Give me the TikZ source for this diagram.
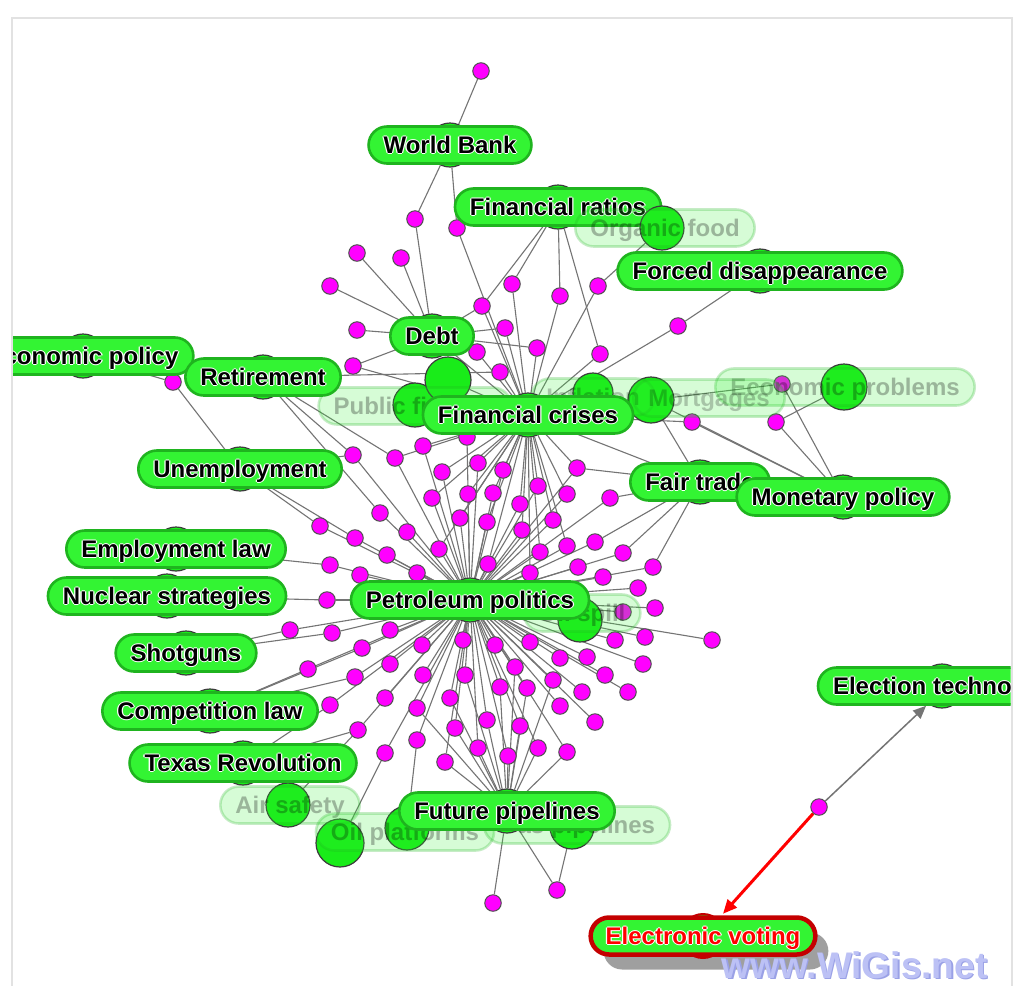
\documentclass[tikz,border=0pt]{standalone}
\usepackage{fontspec}
\setmainfont{Liberation Sans}
\newfontfamily\labfamily{Liberation Sans}
\usetikzlibrary{arrows.meta}
\pgfdeclarelayer{bglayer}
\pgfdeclarelayer{edgelayer}
\pgfsetlayers{bglayer,edgelayer,main}

\definecolor{labfill}{HTML}{33F433}
\definecolor{labline}{HTML}{1FB41F}
\definecolor{circfill}{HTML}{19EC19}
\definecolor{circline}{HTML}{3C3C3C}
\definecolor{dotfill}{HTML}{FF00FF}
\definecolor{dotline}{HTML}{505050}
\definecolor{edgecol}{HTML}{747474}
\definecolor{evline}{HTML}{C40000}
\definecolor{evtext}{HTML}{FF0000}
\definecolor{wmfill}{HTML}{BCC1F5}
\definecolor{wmedge}{HTML}{9AA1E6}
\definecolor{framecol}{HTML}{E2E2E2}

% white outline around label text
\newcommand\halo[1]{\setbox0=\hbox{#1}%
  \rlap{\color{white}\kern-1.3pt\copy0}%
  \rlap{\color{white}\kern1.3pt\copy0}%
  \rlap{\color{white}\raise1.3pt\copy0}%
  \rlap{\color{white}\lower1.3pt\copy0}%
  \copy0}

\begin{document}
\begin{tikzpicture}[x=1pt,y=-1pt,
  edge/.style={draw=edgecol, line width=1.1pt},
  dot/.style={circle, draw=dotline, fill=dotfill, line width=1pt, minimum size=16.5pt, inner sep=0pt},
  hubc/.style={circle, draw=circline, fill=circfill, line width=1.2pt, minimum size=44pt, inner sep=0pt},
  lab/.style={draw=labline, line width=2.6pt, fill=labfill, rounded corners=18.5pt,
    minimum height=37pt, inner xsep=15pt, inner ysep=0pt, text height=17pt, text depth=0pt,
    font=\labfamily\bfseries\fontsize{24}{24}\selectfont, text=black},
  faded/.style={lab, draw opacity=0.25, fill opacity=0.2, text opacity=0.28},
  evlab/.style={lab, draw=evline, line width=4.5pt, text=evtext},
  shadowbox/.style={lab, draw=none, fill=black!50, fill opacity=0.75, text opacity=0},
  wmark/.style={inner sep=0pt, font=\labfamily\bfseries\fontsize{37}{37}\selectfont}
]
\useasboundingbox (0,0) rectangle (1014,986);
\begin{pgfonlayer}{bglayer}
  \fill[white] (0,0) rectangle (1014,986);
  % frame of the viewer
  \draw[framecol, line width=2pt] (11.5,986) -- (11.5,18) -- (1011.5,18) -- (1011.5,986);
\end{pgfonlayer}

\begin{scope}
\clip (13,19) rectangle (1010.5,986);

% ---- small magenta nodes ----
\foreach \n/\x/\y in {
  u1/481/71, u2/415/219, u3/457/228, u4/401/258, u5/357/253, u6/330/286,
  u7/357/330, u8/353/366, u9/512/284, u10/482/306, u11/505/328, u12/560/296,
  u13/598/286, u14/537/348, u15/600/354, u16/678/326, u17/477/352, u18/500/372,
  u19/173/382, u20/692/422, u21/776/422, u22/782/384, u23/467/437, u24/423/446,
  u25/353/455,
  b1/395/458, b2/442/472, b3/478/463, b4/503/470, b5/432/498, b6/468/494,
  b7/493/493, b8/538/486, b9/577/468, b10/567/494, b11/520/504, b12/460/518,
  b13/487/522, b14/522/530, b15/553/520, b16/439/549, b17/488/564, b18/530/573,
  b19/540/552, b20/567/546,
  p1/610/498, p2/380/513, p3/320/526, p4/407/532, p5/355/538, p6/387/555,
  p7/330/565, p8/360/575, p9/417/573, p10/595/542, p11/623/553, p12/578/567,
  p13/603/577, p14/653/567, p15/638/588, p16/655/608, p17/623/612, p18/327/600,
  p19/290/630, p20/332/633, p21/390/630, p22/422/645, p23/463/640, p24/495/645,
  p25/530/642, p26/615/640, p27/645/637, p28/712/640, p29/362/648, p30/308/669,
  p31/390/664, p32/423/675, p33/465/675, p34/515/667, p35/560/658, p36/587/657,
  p37/643/664, p38/605/675, p39/355/677, p40/553/680, p41/500/687, p42/527/688,
  p43/582/692, p44/628/692, p45/330/705, p46/385/698, p47/417/708, p48/450/698,
  p49/560/706, p50/595/722, p51/358/730, p52/455/728, p53/487/720, p54/520/726,
  p55/417/740, p56/478/748, p57/538/748, p58/567/752, p59/385/753, p60/445/762,
  p61/508/756, q1/557/890, q2/493/903, mv/819/807}
  \node[dot] (\n) at (\x,\y) {};

% ---- large nodes of the faded topics ----
\node[hubc, minimum size=46pt] (EPR) at (844,387) {};
\node[hubc] (PF)  at (415,405) {};
\node[hubc, minimum size=40pt] (IN)  at (593,393) {};
\node[hubc] (OS)  at (580,620) {};
\node[hubc] (AS)  at (288,805) {};
\node[hubc] (OPL) at (407,828) {};
\node[hubc] (GP)  at (572,827) {};
% unlabeled large nodes
\node[hubc, minimum size=46pt] (ca) at (448,380) {};
\node[hubc, minimum size=46pt] (cb) at (651,400) {};
\node[hubc, minimum size=48pt] (cc) at (340,843) {};

% ---- faded topic labels ----
\node[faded] (EPRl) at (845,387) {Economic problems};
\node[faded] (PFl)  at (415,406) {Public finance};
\node[faded, text opacity=0.22] (INl)  at (593,397) {Inflation};
\node[faded, text opacity=0.22] (MGl)  at (709,398) {Mortgages};
\node[faded] (OSl)  at (582,613) {Oil spill};
\node[faded] (ASl)  at (290,805) {Air safety};
\node[faded] (OPLl) at (405,832) {Oil platforms};
\node[faded] (GPl)  at (577,825) {Gas pipelines};

% ---- labelled topics ----
\node[hubc] (WB) at (450,145) {};
\node[lab] (WBl) at (WB) {\halo{World Bank}};
\node[hubc] (FR) at (558,207) {};
\node[lab] (FRl) at (FR) {\halo{Financial ratios}};
\node[hubc] (OF)  at (662,228) {};
\node[faded] (OFl)  at (665,228) {Organic food};
\node[hubc] (FD) at (760,271) {};
\node[lab] (FDl) at (FD) {\halo{Forced disappearance}};
\node[hubc] (EP) at (83,356) {};
\node[lab] (EPl) at (83,356) {\halo{Economic policy}};
\node[hubc] (DB) at (432,336) {};
\node[lab] (DBl) at (DB) {\halo{Debt}};
\node[hubc] (RT) at (263,377) {};
\node[lab] (RTl) at (RT) {\halo{Retirement}};
\node[hubc] (FC) at (528,415) {};
\node[lab] (FCl) at (FC) {\halo{Financial crises}};
\node[hubc] (UN) at (240,469) {};
\node[lab] (UNl) at (UN) {\halo{Unemployment}};
\node[hubc] (FT) at (700,482) {};
\node[lab] (FTl) at (FT) {\halo{Fair trade}};
\node[hubc] (MP) at (843,497) {};
\node[lab] (MPl) at (MP) {\halo{Monetary policy}};
\node[hubc] (EL) at (176,549) {};
\node[lab] (ELl) at (EL) {\halo{Employment law}};
\node[hubc] (NS) at (167,596) {};
\node[lab] (NSl) at (NS) {\halo{Nuclear strategies}};
\node[hubc] (PP) at (470,600) {};
\node[lab] (PPl) at (PP) {\halo{Petroleum politics}};
\node[hubc] (SG) at (186,653) {};
\node[lab] (SGl) at (SG) {\halo{Shotguns}};
\node[hubc] (ET) at (942,686) {};
\node[lab] (ETl) at (947,686) {\halo{Election technology}};
\node[hubc] (CL) at (210,711) {};
\node[lab] (CLl) at (CL) {\halo{Competition law}};
\node[hubc] (TR) at (243,763) {};
\node[lab] (TRl) at (TR) {\halo{Texas Revolution}};
\node[hubc] (FP) at (507,811) {};
\node[lab] (FPl) at (FP) {\halo{Future pipelines}};

% ---- selected topic ----
\node[shadowbox] (EVs) at (716,951) {\halo{Electronic voting}};
\node[hubc, draw=evline, line width=2pt] (EV) at (703,936) {};
\node[evlab] (EVl) at (EV) {\halo{Electronic voting}};

% ---- connectors ----
\begin{pgfonlayer}{edgelayer}
  \foreach \i in {1,...,20} \draw[edge] (b\i) -- (PP);
  \foreach \i in {1,...,61} \draw[edge] (p\i) -- (PP);
  \foreach \n in {u23,u24,u25} \draw[edge] (\n) -- (PP);
  \foreach \i in {1,...,20} \draw[edge] (b\i) -- (FC);
  \foreach \n in {u3,u8,u9,u10,u11,u12,u13,u14,u15,u16,u17,u18,u20,u23,u24,ca,cb,IN,PF,DB,FT}
    \draw[edge] (\n) -- (FC);
  \foreach \a/\b in {u1/WB, u2/WB, u3/WB, u2/DB, u4/DB, u5/DB, u6/DB, u7/DB, u8/DB,
      u10/DB, u11/DB, u17/DB, u14/DB, u9/FR, u12/FR, u15/FR, u10/FR, u13/OF, u16/FD,
      u18/RT, u19/EP, u19/UN, u20/MP, u21/MP, u21/EPR, u22/MP, u22/cb, u25/RT, u25/UN,
      b1/RT, p2/RT, p3/UN, p5/UN, p7/EL, p18/NS, p19/SG, p20/SG, p29/CL, p30/CL,
      p39/CL, p45/TR, p51/TR, p59/cc, p55/OPL, p51/AS, q1/GP, cb/MP, cb/FT}
    \draw[edge] (\a) -- (\b);
  \foreach \n in {p33,p34,p40,p41,p42,p47,p48,p52,p53,p54,p56,p57,p58,p60,p61,q1,q2}
    \draw[edge] (\n) -- (FP);
  \foreach \n in {p1,b9,p10,p11,p14} \draw[edge] (\n) -- (FT);
  % links of the selected topic
  \draw[edge, line width=1.5pt, -{Triangle[length=13pt,width=11pt]}] (mv) -- (ETl);
  \draw[draw=evtext, line width=3pt, shorten >=2pt, -{Triangle[length=14pt,width=12pt]}] (mv) -- (EVl);
\end{pgfonlayer}
\end{scope}

% watermark
\node[wmark, text=wmedge] (wmb) at (856,966.5) {www.WiGis.net};
\node[wmark, text=wmfill] (wm) at (854.5,965) {www.WiGis.net};
\end{tikzpicture}
\end{document}
